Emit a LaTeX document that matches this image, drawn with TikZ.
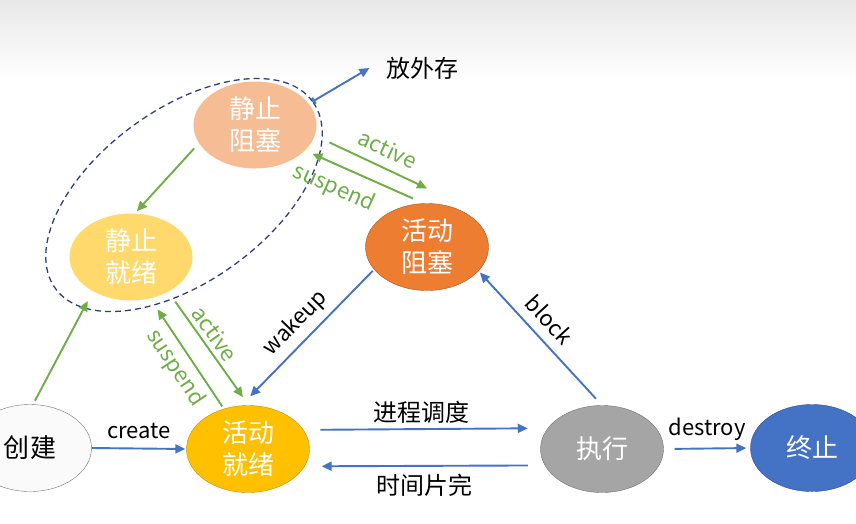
\documentclass[tikz,border=0pt]{standalone}
\usepackage{fontspec}
\setmainfont{Noto Sans CJK SC}
\usetikzlibrary{shapes.geometric,arrows.meta}
\definecolor{peach}{HTML}{F6BC94}
\definecolor{lightgold}{HTML}{FFD96B}
\definecolor{deeporange}{HTML}{ED7D31}
\definecolor{amber}{HTML}{FFC000}
\definecolor{midgray}{HTML}{A5A5A5}
\definecolor{officeblue}{HTML}{4472C4}
\definecolor{leaf}{HTML}{70AD47}
\definecolor{navy}{HTML}{2F3F7A}
\newcommand{\statefont}{\fontsize{26}{32}\selectfont}
\newcommand{\enfont}{\fontsize{22}{26}\selectfont}
\newcommand{\cnfont}{\fontsize{24}{28}\selectfont}

\begin{document}
\begin{tikzpicture}[x=1pt,y=-1pt,
  state/.style={ellipse, minimum width=123pt, minimum height=87pt, inner sep=0pt,
    align=center, font=\statefont, text=white},
  gtrans/.style={-{Triangle[length=10pt,width=9pt]}, leaf, line width=1.9pt},
  btrans/.style={-{Triangle[length=10pt,width=9pt]}, officeblue, line width=1.9pt},
  glabel/.style={font=\enfont, text=leaf, sloped},
  blabel/.style={font=\enfont, text=black}]
\useasboundingbox (0,0) rectangle (856,523);
\shade[top color=black!9, bottom color=white] (0,0) rectangle (856,80);

% states
\node[state, fill=peach] (sb) at (255,125) {静止\\阻塞};
\node[state, fill=lightgold] (sr) at (131,257) {静止\\就绪};
\node[state, fill=deeporange, draw=deeporange!70!black] (hb) at (427,247) {活动\\阻塞};
\node[state, fill=black!2, draw=black!55, text=black] (cj) at (30,448) {创建};
\node[state, fill=amber, draw=amber!75!black] (hj) at (248,449) {活动\\就绪};
\node[state, fill=midgray, draw=midgray!70!black] (zx) at (602,449) {执行};
\node[state, fill=officeblue, draw=officeblue!70!black] (zz) at (812,448) {终止};

% suspended group
\node[ellipse, draw=navy, dash pattern=on 6pt off 4pt, line width=1.3pt, rotate=36,
  minimum width=318pt, minimum height=172pt] (grp) at (184,195) {};
\node[font=\cnfont] (wc) at (422,68) {放外存};

% green transitions
\draw[gtrans, shorten <=7pt, shorten >=3pt] (sb.198) -- (sr.85);
\draw[gtrans, shorten <=4pt, shorten >=11pt] (cj.86) -- (sr.222);
\draw[gtrans, shorten <=16pt] (sb.-10) -- ([yshift=15pt]hb.north)
  node[glabel, pos=0.58, above=6pt] (act1) {active};
\draw[gtrans, shorten <=12pt, shorten >=8pt] (hb.94) -- (sb.-27)
  node[glabel, pos=0.68, below=7pt] (sus1) {suspend};
\draw[gtrans, shorten <=12pt, shorten >=10pt] (sr.-43) -- (hj.89)
  node[glabel, pos=0.44, above=1pt] (act2) {active};
\draw[gtrans, shorten <=3pt, shorten >=13pt] (hj.121) -- (sr.-65)
  node[glabel, pos=0.46, below=2pt] (sus2) {suspend};

% blue transitions
\draw[btrans, shorten <=2pt, shorten >=13pt] (hb.203) -- (hj.99)
  node[blabel, sloped, pos=0.49, above=3pt] (wk) {wakeup};
\draw[btrans, shorten <=9pt, shorten >=2pt] (zx.90) -- (hb.-25)
  node[blabel, sloped, pos=0.54, above=6pt] (blk) {block};
\draw[btrans, shorten >=1pt] (cj.east) -- (hj.west)
  node[blabel, midway, above=5pt] (crt) {create};
\draw[btrans, shorten <=17pt, shorten >=20pt] (hj.19) -- (zx.159)
  node[blabel, font=\cnfont, pos=0.484, above=1pt] (dd) {进程调度};
\draw[btrans, shorten <=17pt, shorten >=17pt] (zx.196) -- (hj.-17)
  node[blabel, font=\cnfont, pos=0.5, below=4pt] (sj) {时间片完};
\draw[btrans, shorten <=11pt, shorten >=4pt] (zx.east) -- (zz.west)
  node[blabel, midway, above=4pt] (ds) {destroy};
\draw[btrans, {Bar[width=7pt]}-{Triangle[length=10pt,width=9pt]}]
  (grp.east) -- ([xshift=-13pt]wc.west);
\end{tikzpicture}
\end{document}
